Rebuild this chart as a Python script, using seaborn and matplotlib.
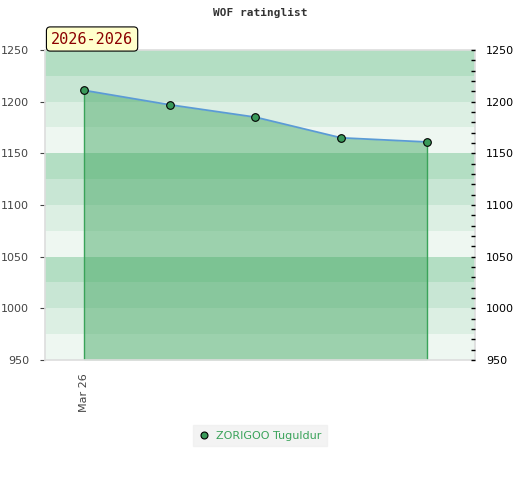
import numpy as np
import pandas as pd
import matplotlib
matplotlib.use('Agg')
import matplotlib.pyplot as plt
from matplotlib.ticker import MultipleLocator
import seaborn as sns

# data
player = 'ZORIGOO Tuguldur'
dates = ['Mar 26', '', '', '', '']
ratings = [1211, 1197, 1185, 1165, 1161]
period = '2026-2026'

df = pd.DataFrame({'idx': np.arange(len(ratings)), 'rating': ratings})

sns.set_style('white')
plt.rcParams['font.family'] = ['DejaVu Sans']

fig = plt.figure(figsize=(5.2, 4.8), dpi=100)
ax = fig.add_axes([45/520, 120/480, 430/520, 310/480])

ymin, ymax = 950, 1250
band_cols = ['#b3dec3', '#c8e6d4', '#dcefe3', '#eef7f1']
for i, y0 in enumerate(range(ymax, ymin, -25)):
    ax.axhspan(y0 - 25, y0, color=band_cols[i % 4], lw=0, zorder=0)

green = '#3aa35a'
ax.fill_between(df['idx'], df['rating'], ymin, color=green, alpha=0.45, lw=0, zorder=1)
ax.vlines([df['idx'].iloc[0], df['idx'].iloc[-1]], ymin, [ratings[0], ratings[-1]],
          color=green, lw=1, zorder=2)
sns.lineplot(data=df, x='idx', y='rating', ax=ax, color='#5b9bd5', lw=1.3,
             marker='o', markersize=5.5, markerfacecolor='#3a9a5a',
             markeredgecolor='black', markeredgewidth=0.8, zorder=3)

ax.set_xlim(-0.453, 4.56)
ax.set_ylim(ymin, ymax)
ax.set_xticks(df['idx'])
ax.set_xticklabels(dates, rotation=90, fontsize=8, color='#444444')
ax.set_yticks(range(950, 1251, 50))
ax.tick_params(axis='y', left=False, labelsize=8, colors='#444444', pad=8)
ax.tick_params(axis='x', bottom=False, pad=6)
ax.set_xlabel('')
ax.set_ylabel('')
for s in ['top', 'left', 'bottom', 'right']:
    ax.spines[s].set_color('#dddddd')
    ax.spines[s].set_linewidth(1.2)

ax2 = ax.twinx()
ax2.set_ylim(ymin, ymax)
ax2.set_yticks(range(950, 1251, 50))
ax2.yaxis.set_minor_locator(MultipleLocator(10))
ax2.tick_params(axis='y', which='both', direction='in', length=3, width=1,
                labelsize=8, colors='black', pad=8)
for s in ['top', 'left', 'bottom', 'right']:
    ax2.spines[s].set_visible(False)

fig.text(0.5, 0.972, 'WOF ratinglist', ha='center', va='center', fontsize=8,
         family='DejaVu Sans Mono', weight='bold', color='#333333')
fig.text(51/520, 1 - 39/480, period, ha='left', va='center', fontsize=11,
         family='DejaVu Sans Mono', color='#8b0000',
         bbox=dict(boxstyle='round,pad=0.3,rounding_size=0.25', fc='#ffffcc',
                   ec='black', lw=0.8))

h = plt.Line2D([], [], ls='none', marker='o', markersize=5, markerfacecolor='#3a9a5a',
               markeredgecolor='black', markeredgewidth=0.8)
leg = fig.legend([h], [player], loc='center', bbox_to_anchor=(0.5, 0.092),
                 frameon=True, fancybox=False, fontsize=8, handletextpad=0.6,
                 borderpad=0.5, handlelength=1)
leg.get_frame().set_facecolor('#f0f0f0')
leg.get_frame().set_edgecolor('#f0f0f0')
for t in leg.get_texts():
    t.set_color(green)

fig.savefig('out.png', dpi=100)
